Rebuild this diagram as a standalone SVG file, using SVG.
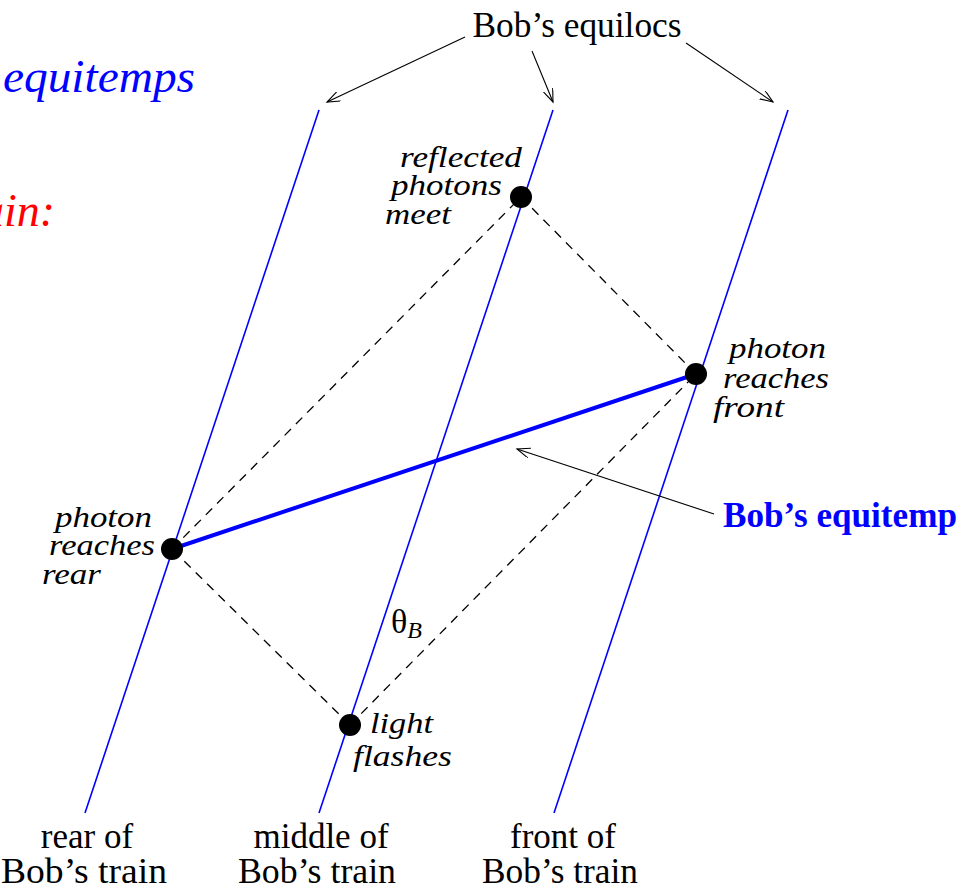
<svg xmlns="http://www.w3.org/2000/svg" width="963" height="891" viewBox="0 0 963 891">
<style>
.world{stroke:#0000ff;stroke-width:1.6;fill:none}
.dash{stroke:#000;stroke-width:1.3;stroke-dasharray:9 7;fill:none}
.arr{stroke:#000;stroke-width:1.1;fill:none;marker-end:url(#ah)}
.dot{fill:#000}
.rom{font-family:"Liberation Serif",serif;font-size:35px;fill:#000}
.it{font-family:"Liberation Serif",serif;font-style:italic;font-size:30px;fill:#000}
</style>
<defs>
<marker id="ah" markerUnits="userSpaceOnUse" markerWidth="16" markerHeight="12" refX="13" refY="5" orient="auto">
<path d="M0,0 L13,5 L0,10" fill="none" stroke="#000" stroke-width="1.1"/>
</marker>
</defs>
<rect width="963" height="891" fill="#fff"/>
<g id="partial-labels">
<text x="3" y="92" font-family="Liberation Serif,serif" font-style="italic" font-size="46" fill="#0000ff" textLength="192" lengthAdjust="spacingAndGlyphs">equitemps</text>
<text x="55" y="226" text-anchor="end" font-family="Liberation Serif,serif" font-style="italic" font-size="46" fill="#ff0000">ain:</text>
</g>
<g id="connectors">
<line class="world" x1="319" y1="110" x2="85" y2="813"/>
<line class="world" x1="553" y1="110" x2="319" y2="813"/>
<line class="world" x1="788" y1="110" x2="554" y2="813"/>
<line class="dash" x1="350" y1="725" x2="172" y2="549"/>
<line class="dash" x1="350" y1="725" x2="696" y2="374"/>
<line class="dash" x1="172" y1="549" x2="521" y2="197"/>
<line class="dash" x1="696" y1="374" x2="521" y2="197"/>
<line x1="172" y1="549" x2="696" y2="374" stroke="#0000ff" stroke-width="4"/>
<line class="arr" x1="465" y1="37" x2="327" y2="102"/>
<line class="arr" x1="532" y1="51" x2="553" y2="102"/>
<line class="arr" x1="686" y1="43" x2="773" y2="102"/>
<line class="arr" x1="714" y1="514" x2="517" y2="449"/>
</g>
<g id="meet">
<circle class="dot" cx="521" cy="197" r="11"/>
<text class="it" x="522" y="167" text-anchor="end" textLength="122" lengthAdjust="spacingAndGlyphs">reflected</text>
<text class="it" x="502" y="195" text-anchor="end" textLength="111" lengthAdjust="spacingAndGlyphs">photons</text>
<text class="it" x="385" y="224" textLength="66" lengthAdjust="spacingAndGlyphs">meet</text>
</g>
<g id="front-event">
<circle class="dot" cx="696" cy="374" r="11"/>
<text class="it" x="729" y="358" textLength="97" lengthAdjust="spacingAndGlyphs">photon</text>
<text class="it" x="723" y="388" textLength="106" lengthAdjust="spacingAndGlyphs">reaches</text>
<text class="it" x="713" y="417" textLength="71" lengthAdjust="spacingAndGlyphs">front</text>
</g>
<g id="rear-event">
<circle class="dot" cx="172" cy="549" r="11"/>
<text class="it" x="55" y="527" textLength="97" lengthAdjust="spacingAndGlyphs">photon</text>
<text class="it" x="49" y="555" textLength="106" lengthAdjust="spacingAndGlyphs">reaches</text>
<text class="it" x="42" y="584" textLength="59" lengthAdjust="spacingAndGlyphs">rear</text>
</g>
<g id="flash">
<circle class="dot" cx="350" cy="725" r="11"/>
<text class="it" x="370" y="733" textLength="63" lengthAdjust="spacingAndGlyphs">light</text>
<text class="it" x="353" y="766" textLength="99" lengthAdjust="spacingAndGlyphs">flashes</text>
</g>
<g id="theta">
<text x="391" y="633" font-family="Liberation Serif,serif" font-size="34" fill="#000">θ<tspan font-style="italic" font-size="24" dy="5">B</tspan></text>
</g>
<g id="equilocs-label">
<text class="rom" x="577" y="37" text-anchor="middle" textLength="209" lengthAdjust="spacingAndGlyphs">Bob’s equilocs</text>
</g>
<g id="equitemp-label">
<text x="723" y="527" font-family="Liberation Serif,serif" font-weight="bold" font-size="35" fill="#0000ff" textLength="234" lengthAdjust="spacingAndGlyphs">Bob’s equitemp</text>
</g>
<g id="rear-label">
<text class="rom" x="87" y="848" text-anchor="middle">rear of</text>
<text class="rom" x="84" y="883" text-anchor="middle" textLength="166" lengthAdjust="spacingAndGlyphs">Bob’s train</text>
</g>
<g id="middle-label">
<text class="rom" x="321" y="848" text-anchor="middle">middle of</text>
<text class="rom" x="317" y="883" text-anchor="middle" textLength="158" lengthAdjust="spacingAndGlyphs">Bob’s train</text>
</g>
<g id="front-label">
<text class="rom" x="563" y="848" text-anchor="middle">front of</text>
<text class="rom" x="560" y="883" text-anchor="middle" textLength="156" lengthAdjust="spacingAndGlyphs">Bob’s train</text>
</g>
</svg>
